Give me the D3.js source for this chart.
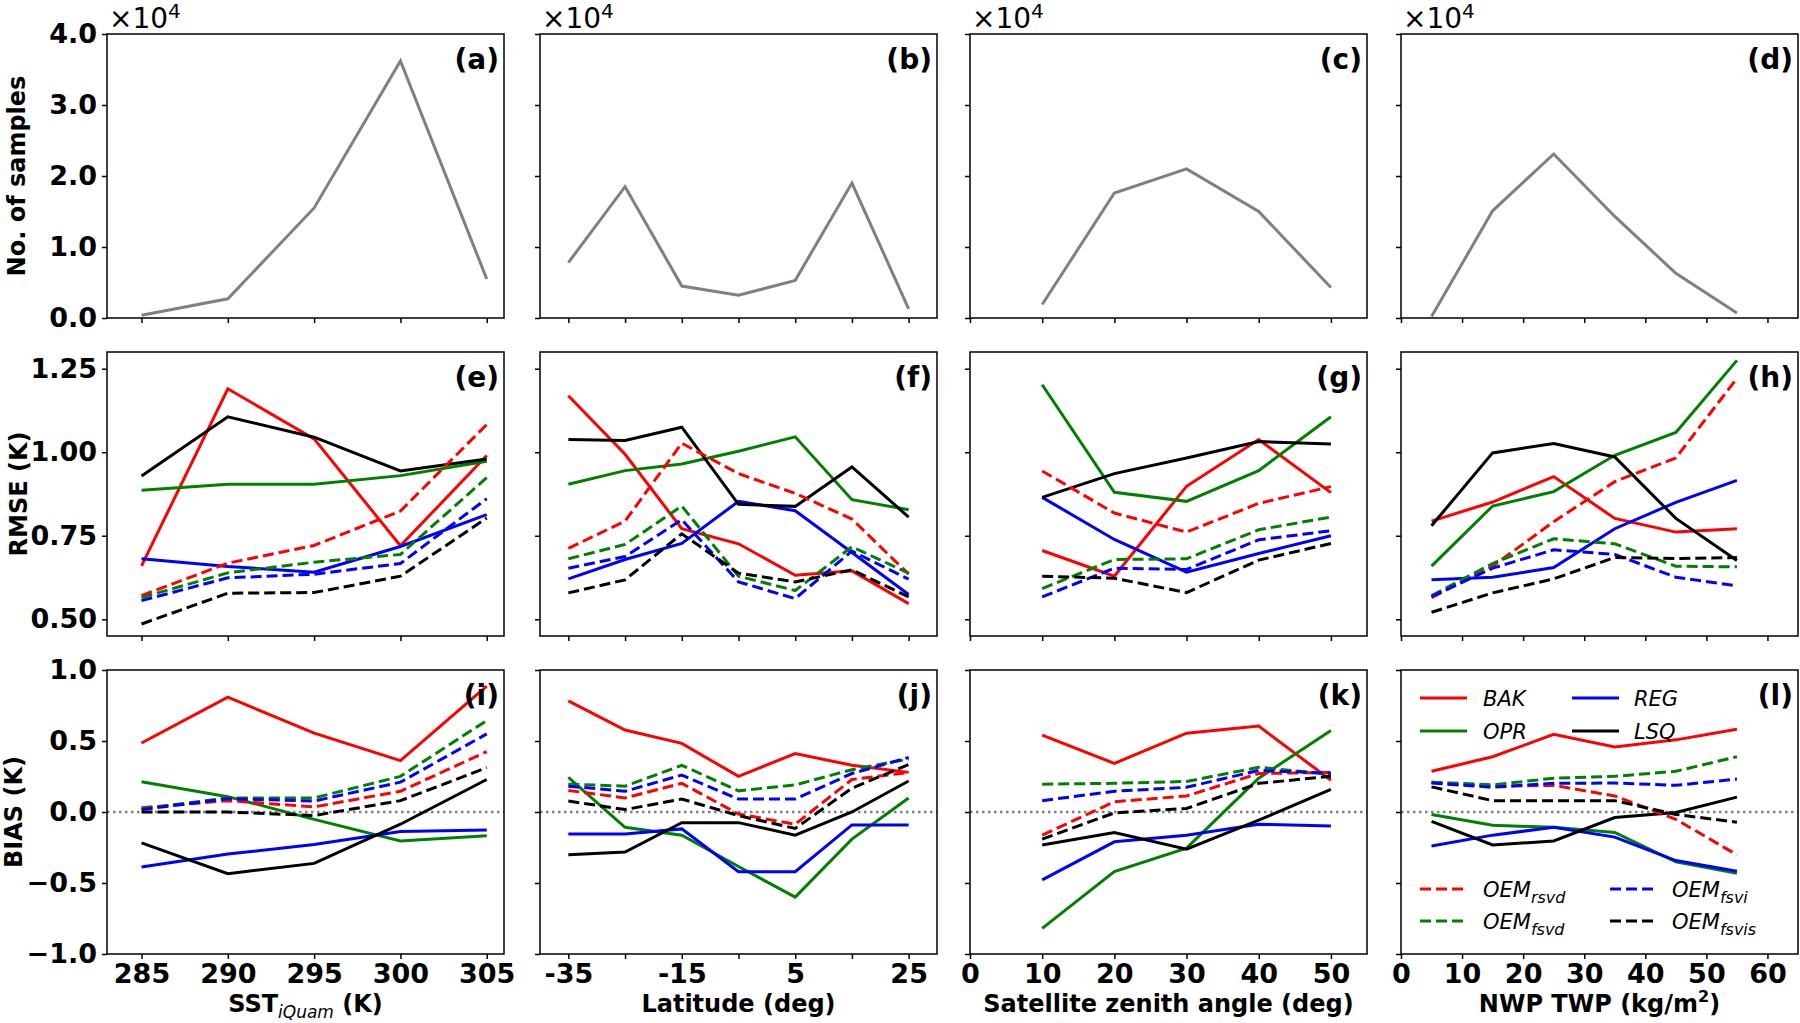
<!DOCTYPE html>
<html>
<head>
<meta charset="utf-8">
<script src="https://cdn.jsdelivr.net/npm/d3@7"></script>
<style>
  body { margin: 0; background: #fff; }
  svg text { font-family: "DejaVu Sans", sans-serif; }
</style>
</head>
<body>
<div id="chart"></div>
<script>
// x positions of the bins
const sstX = [285, 290, 295, 300, 305];
const latX = [-35, -25, -15, -5, 5, 15, 25];
const szaX = [10, 20, 30, 40, 50];
const twpX = [5, 15, 25, 35, 45, 55];

// number of samples per bin
const samplesSST = [400, 2700, 15500, 36200, 5500];
const samplesLat = [7800, 18500, 4500, 3200, 5300, 19000, 1300];
const samplesSZA = [1900, 17600, 21000, 15000, 4300];
const samplesTWP = [200, 15100, 23100, 14300, 6300, 700];

// method order used by all the rmse / bias arrays below
const methods = ["BAK", "OPR", "REG", "LSQ", "OEM_rsvd", "OEM_fsvd", "OEM_fsvi", "OEM_fsvis"];

const rmseSST = [
  [0.66, 1.19, 1.04, 0.72, 0.99],
  [0.886, 0.904, 0.904, 0.930, 0.973],
  [0.681, 0.658, 0.641, 0.718, 0.813],
  [0.929, 1.106, 1.045, 0.944, 0.980],
  [0.571, 0.668, 0.721, 0.824, 1.083],
  [0.565, 0.639, 0.671, 0.694, 0.924],
  [0.556, 0.624, 0.635, 0.667, 0.861],
  [0.486, 0.578, 0.580, 0.629, 0.803]
];
const biasSST = [
  [0.486, 0.809, 0.555, 0.362, 0.887],
  [0.213, 0.108, -0.052, -0.204, -0.168],
  [-0.387, -0.296, -0.229, -0.138, -0.127],
  [-0.218, -0.434, -0.362, -0.086, 0.229],
  [0.030, 0.080, 0.036, 0.146, 0.425],
  [0.022, 0.099, 0.099, 0.251, 0.644],
  [0.017, 0.094, 0.077, 0.210, 0.550],
  [0.0, 0.0, -0.025, 0.080, 0.312]
];
const rmseLat = [
  [1.169, 0.994, 0.771, 0.726, 0.632, 0.645, 0.547],
  [0.904, 0.945, 0.965, 1.003, 1.046, 0.858, 0.828],
  [0.621, 0.679, 0.727, 0.853, 0.825, 0.700, 0.574],
  [1.038, 1.035, 1.075, 0.844, 0.838, 0.956, 0.806],
  [0.712, 0.794, 1.027, 0.936, 0.877, 0.800, 0.635],
  [0.681, 0.724, 0.839, 0.629, 0.586, 0.717, 0.638],
  [0.653, 0.688, 0.798, 0.612, 0.562, 0.704, 0.620],
  [0.579, 0.618, 0.756, 0.638, 0.612, 0.648, 0.567]
];
const biasLat = [
  [0.782, 0.577, 0.483, 0.251, 0.412, 0.329, 0.279],
  [0.243, -0.108, -0.163, -0.384, -0.599, -0.191, 0.099],
  [-0.155, -0.155, -0.119, -0.420, -0.420, -0.091, -0.091],
  [-0.301, -0.282, -0.075, -0.075, -0.163, 0.0, 0.218],
  [0.152, 0.099, 0.202, -0.014, -0.086, 0.229, 0.279],
  [0.196, 0.182, 0.329, 0.149, 0.191, 0.298, 0.373],
  [0.182, 0.146, 0.260, 0.091, 0.091, 0.271, 0.384],
  [0.077, 0.017, 0.091, -0.025, -0.116, 0.168, 0.334]
];
const rmseSZA = [
  [0.706, 0.629, 0.898, 1.038, 0.879],
  [1.202, 0.880, 0.853, 0.945, 1.106],
  [0.865, 0.739, 0.641, 0.697, 0.750],
  [0.865, 0.936, 0.983, 1.032, 1.025],
  [0.944, 0.818, 0.761, 0.847, 0.897],
  [0.592, 0.679, 0.681, 0.768, 0.806],
  [0.567, 0.653, 0.649, 0.738, 0.765],
  [0.629, 0.623, 0.580, 0.677, 0.727]
];
const biasSZA = [
  [0.541, 0.342, 0.555, 0.605, 0.224],
  [-0.820, -0.420, -0.254, 0.238, 0.574],
  [-0.478, -0.210, -0.163, -0.086, -0.099],
  [-0.232, -0.144, -0.262, -0.058, 0.160],
  [-0.163, 0.072, 0.113, 0.271, 0.279],
  [0.196, 0.202, 0.215, 0.315, 0.265],
  [0.080, 0.146, 0.174, 0.293, 0.273],
  [-0.191, -0.006, 0.025, 0.202, 0.251]
];
const rmseTWP = [
  [0.794, 0.851, 0.927, 0.802, 0.761, 0.771],
  [0.659, 0.839, 0.882, 0.991, 1.059, 1.275],
  [0.618, 0.626, 0.655, 0.771, 0.850, 0.916],
  [0.780, 0.998, 1.026, 0.986, 0.802, 0.676],
  [0.565, 0.659, 0.792, 0.912, 0.983, 1.221],
  [0.571, 0.667, 0.741, 0.726, 0.659, 0.657],
  [0.568, 0.653, 0.708, 0.694, 0.626, 0.600],
  [0.521, 0.579, 0.621, 0.685, 0.682, 0.685]
];
const biasTWP = [
  [0.287, 0.389, 0.547, 0.458, 0.508, 0.583],
  [-0.017, -0.094, -0.108, -0.144, -0.351, -0.431],
  [-0.240, -0.163, -0.108, -0.177, -0.342, -0.417],
  [-0.066, -0.232, -0.204, -0.039, -0.003, 0.105],
  [0.210, 0.182, 0.188, 0.113, -0.052, -0.301],
  [0.210, 0.191, 0.238, 0.251, 0.287, 0.389],
  [0.204, 0.174, 0.202, 0.204, 0.188, 0.232],
  [0.177, 0.080, 0.080, 0.080, -0.017, -0.072]
];

const panelLetters = ["a","b","c","d","e","f","g","h","i","j","k","l"];

// line styles per method
const styles = {
  BAK:       {color: "#ff0000", dash: null},
  OPR:       {color: "#008000", dash: null},
  REG:       {color: "#0000ff", dash: null},
  LSQ:       {color: "#000000", dash: null},
  OEM_rsvd:  {color: "#ff0000", dash: "11,5"},
  OEM_fsvd:  {color: "#008000", dash: "11,5"},
  OEM_fsvi:  {color: "#0000ff", dash: "11,5"},
  OEM_fsvis: {color: "#000000", dash: "11,5"}
};

// layout (pixels)
const W = 1800, H = 1023;
const colLeft = [107, 540, 970, 1401];
const pw = 397;
const rowTop = [34, 352, 670];
const ph = 284;
const tickFont = "27px", labelFont = "24px";

const cols = [
  {x: sstX, dom: [283, 306], ticks: [285, 290, 295, 300, 305], fmt: d => d,
   samples: samplesSST, rmse: rmseSST, bias: biasSST},
  {x: latX, dom: [-40, 30], ticks: [-35, -25, -15, -5, 5, 15, 25],
   fmt: d => ([-35, -15, 5, 25].includes(d) ? String(d) : ""),
   samples: samplesLat, rmse: rmseLat, bias: biasLat},
  {x: szaX, dom: [0, 55], ticks: [0, 10, 20, 30, 40, 50], fmt: d => d,
   samples: samplesSZA, rmse: rmseSZA, bias: biasSZA},
  {x: twpX, dom: [0, 65], ticks: [0, 10, 20, 30, 40, 50, 60], fmt: d => d,
   samples: samplesTWP, rmse: rmseTWP, bias: biasTWP}
];

const rowsCfg = [
  {dom: [0, 40000], ticks: [0, 10000, 20000, 30000, 40000], fmt: d => (d / 1e4).toFixed(1)},
  {dom: [0.45, 1.30], ticks: [0.5, 0.75, 1.0, 1.25], fmt: d3.format(".2f")},
  {dom: [-1, 1], ticks: [-1, -0.5, 0, 0.5, 1], fmt: d3.format(".1f")}
];

const svg = d3.select("#chart").append("svg")
    .attr("width", W)
    .attr("height", H);

function styleAxis(g, fontSize) {
  g.select(".domain").remove();
  g.selectAll(".tick line").attr("stroke", "#000").attr("stroke-width", 1.5);
  g.selectAll(".tick text")
      .attr("fill", "#000")
      .style("font-size", fontSize)
      .style("font-weight", "bold")
      .style("font-family", "'DejaVu Sans', sans-serif");
}

rowsCfg.forEach((rc, r) => {
  cols.forEach((cc, c) => {
    const x0 = colLeft[c], y0 = rowTop[r];
    const g = svg.append("g").attr("transform", `translate(${x0},${y0})`);

    const xScale = d3.scaleLinear().domain(cc.dom).range([0, pw]);
    const yScale = d3.scaleLinear().domain(rc.dom).range([ph, 0]);

    // axes
    const xa = g.append("g")
        .attr("transform", `translate(0,${ph})`)
        .call(d3.axisBottom(xScale).tickValues(cc.ticks)
            .tickFormat(r === 2 ? cc.fmt : () => "")
            .tickSize(5).tickPadding(5).tickSizeOuter(0));
    styleAxis(xa, tickFont);

    const ya = g.append("g")
        .call(d3.axisLeft(yScale).tickValues(rc.ticks)
            .tickFormat(c === 0 ? rc.fmt : () => "")
            .tickSize(5).tickPadding(5).tickSizeOuter(0));
    styleAxis(ya, tickFont);

    const line = d3.line()
        .x((d, i) => xScale(cc.x[i]))
        .y(d => yScale(d));

    if (r === 0) {
      g.append("path")
          .datum(cc.samples)
          .attr("fill", "none")
          .attr("stroke", "#808080")
          .attr("stroke-width", 3)
          .attr("d", line);

      // offset text above each sample panel
      const off = g.append("text")
          .attr("x", 2)
          .attr("y", -6)
          .style("font-size", "28px")
          .attr("fill", "#000");
      off.append("tspan").text("\u00d710");
      off.append("tspan").attr("dy", -10).style("font-size", "20px").text("4");
    } else {
      const series = r === 1 ? cc.rmse : cc.bias;

      if (r === 2) {
        g.append("line")
            .attr("x1", 0).attr("x2", pw)
            .attr("y1", yScale(0)).attr("y2", yScale(0))
            .attr("stroke", "#808080")
            .attr("stroke-width", 2.5)
            .attr("stroke-dasharray", "2.5,3.5");
      }

      g.append("g").selectAll("path")
          .data(series)
          .join("path")
          .attr("fill", "none")
          .attr("stroke", (d, i) => styles[methods[i]].color)
          .attr("stroke-width", 3)
          .attr("stroke-dasharray", (d, i) => styles[methods[i]].dash)
          .attr("d", line);
    }

    // frame
    g.append("rect")
        .attr("width", pw).attr("height", ph)
        .attr("fill", "none")
        .attr("stroke", "#000")
        .attr("stroke-width", 1.5);

    // panel letter
    g.append("text")
        .attr("x", pw - 5)
        .attr("y", 35)
        .attr("text-anchor", "end")
        .style("font-size", "28px")
        .style("font-weight", "bold")
        .text(`(${panelLetters[r * 4 + c]})`);
  });
});

// y labels
const yLabels = [
  {text: "No. of samples", x: 25, row: 0},
  {text: "RMSE (K)", x: 27, row: 1},
  {text: "BIAS (K)", x: 22, row: 2}
];
yLabels.forEach(d => {
  svg.append("text")
      .attr("transform", `translate(${d.x},${rowTop[d.row] + ph / 2}) rotate(-90)`)
      .attr("text-anchor", "middle")
      .style("font-size", labelFont)
      .style("font-weight", "bold")
      .text(d.text);
});

// x labels
const xlY = 1012;
function xLabel(c) {
  return svg.append("text")
      .attr("x", colLeft[c] + pw / 2)
      .attr("y", xlY)
      .attr("text-anchor", "middle")
      .style("font-size", labelFont)
      .style("font-weight", "bold");
}
const xl0 = xLabel(0);
xl0.append("tspan").text("SST");
xl0.append("tspan").attr("dy", 6).style("font-size", "17px")
    .style("font-style", "italic").style("font-weight", "normal").text("iQuam");
xl0.append("tspan").attr("dy", -6).text(" (K)");
xLabel(1).text("Latitude (deg)");
xLabel(2).text("Satellite zenith angle (deg)");
const xl3 = xLabel(3);
xl3.append("tspan").text("NWP TWP (kg/m");
xl3.append("tspan").attr("dy", -10).style("font-size", "16px").text("2");
xl3.append("tspan").attr("dy", 10).text(")");

// legends in panel (l)
const lg = svg.append("g").attr("transform", `translate(${colLeft[3]},${rowTop[2]})`);
const legendItems = [
  {m: "BAK", hx: 19, tx: 82, y: 28},
  {m: "OPR", hx: 19, tx: 82, y: 61},
  {m: "REG", hx: 171, tx: 233, y: 28},
  {m: "LSQ", hx: 171, tx: 233, y: 61},
  {m: "OEM_rsvd", hx: 19, tx: 82, y: 219},
  {m: "OEM_fsvd", hx: 19, tx: 82, y: 251},
  {m: "OEM_fsvi", hx: 209, tx: 271, y: 219},
  {m: "OEM_fsvis", hx: 209, tx: 271, y: 251}
];
legendItems.forEach(d => {
  const s = styles[d.m];
  lg.append("line")
      .attr("x1", d.hx).attr("x2", d.hx + 47)
      .attr("y1", d.y).attr("y2", d.y)
      .attr("stroke", s.color)
      .attr("stroke-width", 3)
      .attr("stroke-dasharray", s.dash);
  const t = lg.append("text")
      .attr("x", d.tx)
      .attr("y", d.y + 8)
      .style("font-size", "21px")
      .style("font-style", "italic");
  const parts = d.m.split("_");
  t.append("tspan").text(parts[0]);
  if (parts[1]) {
    t.append("tspan").attr("dy", 6).style("font-size", "16px").text(parts[1]);
  }
});
</script>
</body>
</html>
